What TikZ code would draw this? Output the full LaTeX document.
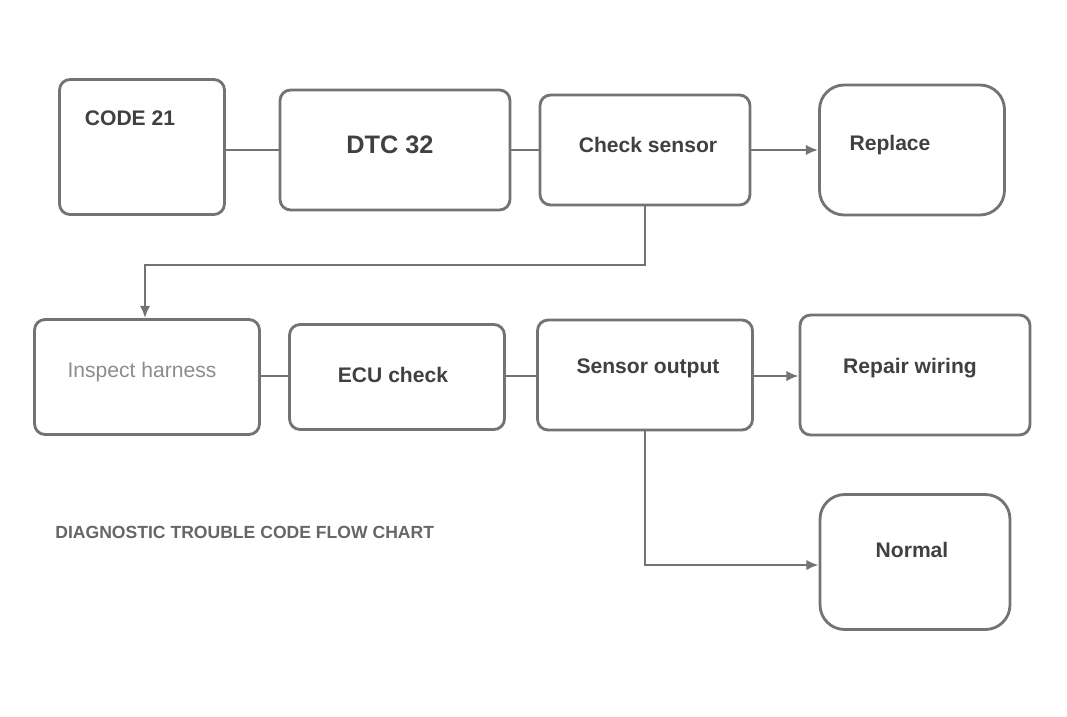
\documentclass[tikz,border=0pt]{standalone}
\usepackage{fontspec}
\setmainfont{Liberation Sans}
\usetikzlibrary{arrows.meta}
\begin{document}
\begin{tikzpicture}[x=0.02cm,y=-0.02cm,
  box/.style={draw=black!55,line width=1.6pt,rounded corners=6pt,inner sep=0pt},
  rbox/.style={box,rounded corners=14pt},
  txt/.style={text=black!75,font=\bfseries\large,inner sep=0pt},
  ltxt/.style={text=black!45,font=\large,inner sep=0pt},
  conn/.style={draw=black!55,line width=1.6pt},
  arr/.style={conn,-{Latex[length=7pt,width=6pt]}}]
\useasboundingbox (0,0) rectangle (1067,716);
% row 1
\node[box,minimum width=3.3cm,minimum height=2.7cm] (a) at (142,147) {};
\node[txt] (ta) at (130,118) {CODE 21};
\node[box,minimum width=4.6cm,minimum height=2.4cm] (b) at (395,150) {};
\node[txt,font=\bfseries\Large] (tb) at (390,145) {DTC 32};
\node[box,minimum width=4.2cm,minimum height=2.2cm] (c) at (645,150) {};
\node[txt] (tc) at (648,145) {Check sensor};
\node[rbox,minimum width=3.7cm,minimum height=2.6cm] (d) at (912,150) {};
\node[txt] (td) at (890,145) {Replace};
\coordinate (r1) at (0,150);
\draw[conn] (a.east |- r1) -- (b.west |- r1);
\draw[conn] (b.east |- r1) -- (c.west |- r1);
\draw[arr] (c.east |- r1) -- (d.west |- r1);
% link down
\coordinate (k1) at (645,265);
\coordinate (k2) at (145,265);
% row 2
\node[box,minimum width=4.5cm,minimum height=2.3cm] (e) at (147,377) {};
\node[ltxt] (te) at (142,372) {Inspect harness};
\node[box,minimum width=4.3cm,minimum height=2.1cm] (f) at (397,377) {};
\node[txt] (tf) at (393,375) {ECU check};
\node[box,minimum width=4.3cm,minimum height=2.2cm] (g) at (645,375) {};
\node[txt] (tg) at (648,368) {Sensor output};
\node[box,minimum width=4.6cm,minimum height=2.4cm] (h) at (915,375) {};
\node[txt] (th) at (910,368) {Repair wiring};
\draw[arr] (c.south -| k1) -- (k1) -- (k2) -- (e.north -| k2);
\coordinate (r2) at (0,376);
\draw[conn] (e.east |- r2) -- (f.west |- r2);
\draw[conn] (f.east |- r2) -- (g.west |- r2);
\draw[arr] (g.east |- r2) -- (h.west |- r2);
% row 3
\node[rbox,minimum width=3.8cm,minimum height=2.7cm] (i) at (915,562) {};
\node[txt] (ti) at (912,550) {Normal};
\coordinate (k3) at (645,565);
\draw[arr] (g.south -| k3) -- (k3) -- (i.west |- k3);
\node[txt,text=black!60,anchor=west,font=\bfseries] (note) at (55,532) {DIAGNOSTIC TROUBLE CODE FLOW CHART};
\end{tikzpicture}
\end{document}
